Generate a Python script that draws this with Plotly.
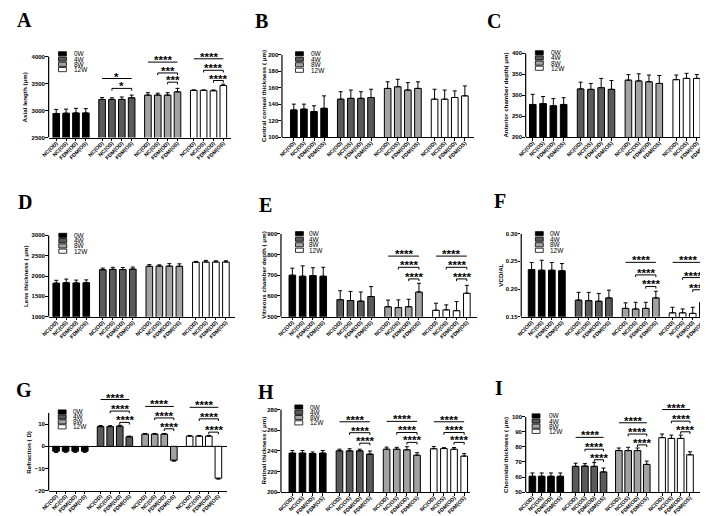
import plotly.graph_objects as go

W, H = 708, 516
FONT = "Liberation Sans, Arial, sans-serif"
SERIF = "Liberation Serif, Times New Roman, serif"

categories = ["NC(OD)", "NC(OS)", "FDM(OD)", "FDM(OS)"]
weeks = ["0W", "4W", "8W", "12W"]
week_colors = ["#000000", "#5a5a5a", "#a2a2a2", "#ffffff"]

# A  Axial length
axial_mean = [[2945, 2950, 2955, 2955], [3205, 3205, 3205, 3235], [3285, 3285, 3285, 3345], [3372, 3372, 3365, 3462]]
axial_err = [[75, 75, 85, 80], [35, 30, 45, 50], [45, 35, 45, 65], [10, 10, 15, 25]]
axial_sig = [(1, 0, 3, 3592, "*"), (1, 1, 3, 3409, "*"),
             (2, 0, 3, 3896, "****"), (2, 1, 3, 3695, "***"), (2, 2, 3, 3524, "***"),
             (3, 0, 3, 3957, "****"), (3, 1, 3, 3744, "****"), (3, 2, 3, 3555, "****")]
# B  Central corneal thickness
cct_mean = [[133, 134, 131, 135], [146, 147, 147, 148], [159, 161, 157, 159], [146, 146, 148, 150]]
cct_err = [[7, 6, 7, 15], [9, 10, 8, 10], [8, 9, 9, 8], [12, 11, 8, 12]]
# C  Anterior chamber depth
acd_mean = [[278, 280, 275, 278], [315, 314, 318, 314], [336, 334, 332, 328], [337, 340, 340, 341]]
acd_err = [[24, 17, 17, 16], [16, 14, 22, 21], [13, 17, 16, 19], [11, 12, 9, 12]]
# D  Lens thickness
lt_mean = [[1825, 1835, 1830, 1835], [2155, 2165, 2160, 2170], [2240, 2245, 2245, 2240], [2340, 2345, 2345, 2345]]
lt_err = [[70, 90, 70, 70], [40, 50, 50, 50], [40, 30, 60, 60], [20, 40, 30, 30]]
# E  Vitreous chamber depth
vcd_mean = [[700, 695, 698, 695], [582, 578, 575, 597], [548, 544, 548, 619], [531, 533, 529, 613]]
vcd_err = [[34, 50, 38, 43], [43, 44, 44, 48], [32, 37, 36, 42], [34, 24, 44, 38]]
vcd_sig = [(2, 0, 3, 792, "****"), (2, 1, 3, 738, "****"), (2, 2, 3, 682, "****"),
           (3, 0, 3, 792, "****"), (3, 1, 3, 738, "****"), (3, 2, 3, 682, "****")]
# F  VCD/AL
ratio_mean = [[0.235, 0.234, 0.234, 0.233], [0.180, 0.179, 0.178, 0.184], [0.165, 0.164, 0.165, 0.184], [0.157, 0.157, 0.156, 0.176]]
ratio_err = [[0.013, 0.018, 0.014, 0.013], [0.014, 0.015, 0.014, 0.014], [0.010, 0.012, 0.011, 0.012], [0.010, 0.007, 0.011, 0.011]]
ratio_sig = [(2, 0, 3, 0.2482, "****"), (2, 1, 3, 0.2255, "****"), (2, 2, 3, 0.2046, "****"),
             (3, 0, 3, 0.2482, "****"), (3, 1, 3, 0.2207, "****"), (3, 2, 3, 0.1987, "****")]
# G  Refraction
refr_mean = [[-2.2, -2.2, -2.2, -2.2], [8.9, 8.9, 9.1, 4.3], [5.5, 5.5, 5.5, -6.3], [4.6, 4.6, 4.6, -14.4]]
refr_err = [[0.6, 0.5, 0.5, 0.5], [0.5, 0.4, 0.4, 0.3], [0.3, 0.3, 0.3, 0.4], [0.3, 0.3, 0.3, 0.4]]
refr_sig = [(1, 0, 3, 21.1, "****"), (1, 1, 3, 15.9, "****"), (1, 2, 3, 10.8, "****"),
            (2, 0, 3, 18.0, "****"), (2, 1, 3, 12.8, "****"), (2, 2, 3, 7.9, "****"),
            (3, 0, 3, 17.6, "****"), (3, 1, 3, 12.4, "****"), (3, 2, 3, 6.4, "****")]
# H  Retinal thickness
ret_mean = [[237.8, 237.8, 237.4, 237.8], [240.0, 240.0, 240.0, 236.8], [241.6, 241.6, 241.0, 235.8], [242.0, 242.2, 241.6, 234.9]]
ret_err = [[2.5, 2.5, 1.5, 2.5], [1.6, 2.0, 1.6, 3.0], [2.0, 1.8, 3.0, 2.4], [2.2, 0.9, 1.6, 2.4]]
ret_sig = [(1, 0, 3, 268.2, "****"), (1, 1, 3, 257.6, "****"), (1, 2, 3, 247.4, "****"),
           (2, 0, 3, 268.6, "****"), (2, 1, 3, 257.8, "****"), (2, 2, 3, 248.2, "****"),
           (3, 0, 3, 268.2, "****"), (3, 1, 3, 257.8, "****"), (3, 2, 3, 248.2, "****")]
# I  Choroidal thickness
cho_mean = [[60.5, 60.5, 60.5, 60.5], [67.1, 67.3, 67.1, 63.4], [77.6, 77.6, 77.6, 68.4], [86.2, 85.7, 85.7, 74.8]]
cho_err = [[2.2, 2.2, 2.2, 2.2], [2.1, 1.6, 2.5, 2.6], [1.7, 2.2, 1.7, 2.2], [2.4, 2.2, 2.2, 2.0]]
cho_sig = [(1, 0, 3, 86.4, "****"), (1, 1, 3, 78.5, "****"), (1, 2, 3, 71.5, "****"),
           (2, 0, 3, 96.1, "****"), (2, 1, 3, 88.6, "****"), (2, 2, 3, 81.4, "****"),
           (3, 0, 3, 104.9, "****"), (3, 1, 3, 97.2, "****"), (3, 2, 3, 90.1, "****")]

GROUP_STEP = 4.65
LAST = 3 * GROUP_STEP + 3

panels = [
    dict(letter="A", lpos=(9, 9), title="Axial length (μm)", tx=9.5, mean=axial_mean, err=axial_err, sig=axial_sig,
         ymin=2500, ymax=4000, yticks=[2500, 3000, 3500, 4000], ytext=None,
         xl=33, xr=217, first=40.7, last=209.7, pb=128, pt=46, ext=34,
         leg=(43, 43.3, 5.33, 57)),
    dict(letter="B", lpos=(248.5, 10), title="Central corneal thickness ( μm)", tx=251, mean=cct_mean, err=cct_err, sig=[],
         ymin=100, ymax=200, yticks=[100, 120, 140, 160, 180, 200], ytext=None,
         xl=269, xr=463, first=281, last=454, pb=127.7, pt=44, ext=44,
         leg=(282.7, 43.3, 5.55, 296)),
    dict(letter="C", lpos=(483.5, 10), title="Anterior chamber depth( μm)", tx=495, mean=acd_mean, err=acd_err, sig=[],
         ymin=200, ymax=400, yticks=[200, 250, 300, 350, 400], ytext=None,
         xl=515.5, xr=702, first=522.7, last=699, pb=127.7, pt=42.7, ext=42.7,
         leg=(525.3, 42.3, 5.2, 538.7)),
    dict(letter="D", lpos=(9, 193.5), title="Lens thickness ( μm)", tx=9, mean=lt_mean, err=lt_err, sig=[],
         ymin=1000, ymax=3000, yticks=[1000, 1500, 2000, 2500, 3000], ytext=None,
         xl=33, xr=222, first=40.7, last=212.3, pb=309.3, pt=227, ext=227,
         leg=(43.3, 227, 5.33, 56.7)),
    dict(letter="E", lpos=(252, 196), title="Vitreous chamber depth ( μm)", tx=250.5, mean=vcd_mean, err=vcd_err, sig=vcd_sig,
         ymin=500, ymax=900, yticks=[500, 600, 700, 800, 900], ytext=None,
         xl=268, xr=466, first=279.5, last=456, pb=309.3, pt=225.3, ext=225.3,
         leg=(282.7, 225.3, 5.6, 294.3)),
    dict(letter="F", lpos=(490, 192), title="VCD/AL", tx=490, mean=ratio_mean, err=ratio_err, sig=ratio_sig,
         ymin=0.15, ymax=0.30, yticks=[0.15, 0.20, 0.25, 0.30], ytext=["0.15", "0.20", "0.25", "0.30"],
         xl=511, xr=702, first=521.5, last=694.7, pb=309.3, pt=225.3, ext=225.3,
         leg=(525.3, 225.3, 5.6, 537.7)),
    dict(letter="G", lpos=(8.3, 383), title="Refraction ( D)", tx=13, mean=refr_mean, err=refr_err, sig=refr_sig,
         ymin=-20, ymax=15, yticks=[-20, -10, 0, 10], ytext=None,
         xl=33, xr=213, first=40.5, last=204.7, pb=485.3, pt=406.8, ext=378,
         leg=(42.7, 405.7, 5.0, 56)),
    dict(letter="H", lpos=(252.7, 385), title="Retinal thickness ( μm)", tx=250.5, mean=ret_mean, err=ret_err, sig=ret_sig,
         ymin=200, ymax=280, yticks=[200, 220, 240, 260, 280], ytext=None,
         xl=268, xr=459, first=279.5, last=453.3, pb=486.7, pt=403.3, ext=403.3,
         leg=(282, 400.7, 5.33, 295.3)),
    dict(letter="I", lpos=(488.7, 381.5), title="Choroidal thickness ( μm)", tx=495, mean=cho_mean, err=cho_err, sig=cho_sig,
         ymin=50, ymax=100, yticks=[50, 60, 70, 80, 90, 100], ytext=None,
         xl=515.5, xr=698, first=522.3, last=681.7, pb=486.7, pt=410.7, ext=390,
         leg=(522, 409.7, 5.2, 537)),
]


def bar_x(g, b):
    return g * GROUP_STEP + b


fig = go.Figure()
shapes = []
annotations = []
layout_axes = {}

tick_font = dict(family=FONT, size=6, color="black", weight="bold")
xtick_font = dict(family=FONT, size=5.3, color="black", weight="bold")

for k, p in enumerate(panels):
    n = "" if k == 0 else str(k + 1)
    xname, yname = "x" + n, "y" + n
    u = (p["last"] - p["first"]) / LAST  # px per unit
    r0 = -(p["first"] - p["xl"]) / u
    r1 = LAST + (p["xr"] - p["last"]) / u
    ys = (p["ymax"] - p["ymin"]) / (p["pb"] - p["pt"])  # units per px
    ytop = p["ymax"] + (p["pt"] - p["ext"]) * ys
    bw = 6.7 / u

    for g in range(4):
        xs = [bar_x(g, b) for b in range(4)]
        vals = p["mean"][g]
        errs = p["err"][g]
        up = [e if v >= 0 else 0 for v, e in zip(vals, errs)]
        dn = [0 if v >= 0 else e for v, e in zip(vals, errs)]
        fig.add_trace(go.Bar(
            x=xs, y=vals, width=bw, name=weeks[g], xaxis=xname, yaxis=yname,
            marker=dict(color=week_colors[g], line=dict(color="black", width=1)),
            error_y=dict(type="data", symmetric=False, array=up, arrayminus=dn,
                         color="black", thickness=1, width=2),
            showlegend=False, hoverinfo="skip",
        ))

    tickvals = [bar_x(g, b) for g in range(4) for b in range(4)]
    ticktext = [categories[b] for g in range(4) for b in range(4)]
    layout_axes["xaxis" + n] = dict(
        domain=[p["xl"] / W, p["xr"] / W], range=[r0, r1], anchor=yname,
        tickvals=tickvals, ticktext=ticktext, tickangle=-45, tickfont=xtick_font,
        ticks="outside", ticklen=2.5, tickwidth=1, tickcolor="black", ticklabelstandoff=-3,
        showline=True, linecolor="black", linewidth=1.2, showgrid=False, zeroline=False,
        fixedrange=True,
    )
    yax = dict(
        domain=[1 - p["pb"] / H, 1 - p["ext"] / H], range=[p["ymin"], ytop], anchor=xname,
        tickvals=p["yticks"], tickfont=tick_font, ticklabelstandoff=-1,
        ticks="outside", ticklen=2.5, tickwidth=1, tickcolor="black",
        showline=False, showgrid=False, zeroline=(p["ymin"] < 0),
        zerolinecolor="black", zerolinewidth=1, fixedrange=True,
    )
    if p["ytext"]:
        yax["ticktext"] = p["ytext"]
    layout_axes["yaxis" + n] = yax

    # y axis line up to ymax only
    shapes.append(dict(type="line", xref=xname + " domain", yref=yname, x0=0, x1=0,
                       y0=p["ymin"], y1=p["ymax"], line=dict(color="black", width=1.2)))

    # significance brackets
    dy = 2.2 * ys
    for (g, a, b, yv, lab) in p["sig"]:
        x0, x1 = bar_x(g, a), bar_x(g, b)
        shapes.append(dict(type="line", xref=xname, yref=yname, x0=x0, x1=x1, y0=yv, y1=yv,
                           line=dict(color="black", width=1)))
        if a != 0:
            for xx in (x0, x1):
                shapes.append(dict(type="line", xref=xname, yref=yname, x0=xx, x1=xx,
                                   y0=yv, y1=yv - dy, line=dict(color="black", width=1)))
        annotations.append(dict(xref=xname, yref=yname, x=(x0 + x1) / 2, y=yv, text=lab,
                                showarrow=False, yanchor="bottom", xanchor="center", yshift=-6,
                                font=dict(family=FONT, size=11.5, color="black", weight="bold")))

    # y-axis title
    yc = (p["pb"] + p["pt"]) / 2
    annotations.append(dict(xref="paper", yref="paper", x=p["tx"] / W, y=1 - yc / H, text=p["title"],
                            textangle=-90, showarrow=False, xanchor="center", yanchor="middle",
                            font=dict(family=FONT, size=6.2, color="black", weight="bold")))
    # panel letter
    annotations.append(dict(xref="paper", yref="paper", x=p["lpos"][0] / W, y=1 - p["lpos"][1] / H,
                            text=p["letter"], showarrow=False, xanchor="center", yanchor="middle",
                            font=dict(family=SERIF, size=20, color="black", weight="bold")))
    # legend
    sx, sy, sdy, tx = p["leg"]
    for g in range(4):
        cy = sy + g * sdy
        shapes.append(dict(type="rect", xref="paper", yref="paper",
                           x0=sx / W, x1=(sx + 8) / W, y0=1 - (cy + 2.1) / H, y1=1 - (cy - 2.1) / H,
                           fillcolor=week_colors[g], line=dict(color="black", width=0.8)))
        annotations.append(dict(xref="paper", yref="paper", x=tx / W, y=1 - cy / H, text=weeks[g],
                                showarrow=False, xanchor="left", yanchor="middle",
                                font=dict(family=FONT, size=6.5, color="black")))

fig.update_layout(
    width=W, height=H, margin=dict(l=0, r=0, t=0, b=0),
    paper_bgcolor="white", plot_bgcolor="white",
    barmode="overlay", showlegend=False,
    shapes=shapes, annotations=annotations,
    **layout_axes,
)

fig.write_html("out.html")
